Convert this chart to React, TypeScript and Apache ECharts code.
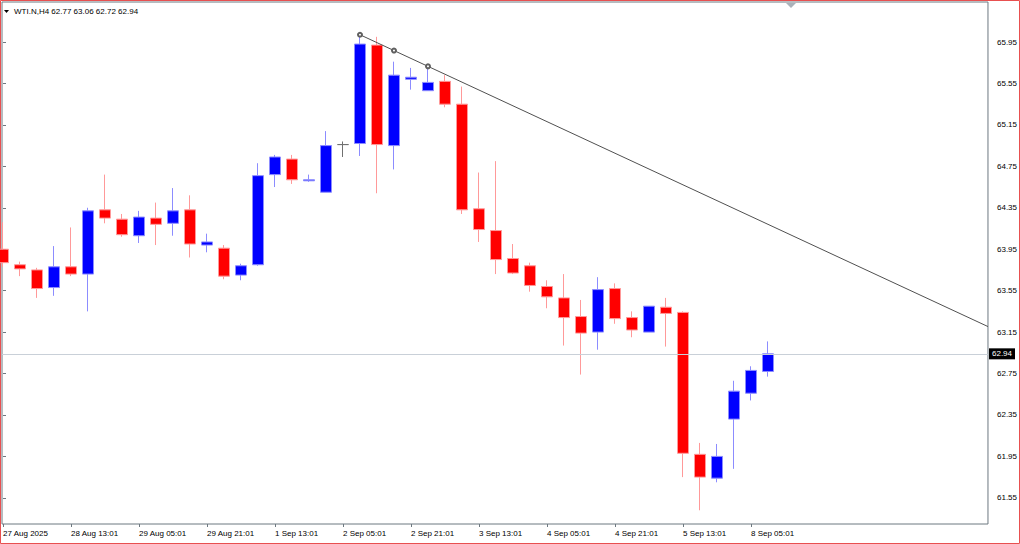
import React, { useEffect, useRef } from "react";
import * as echarts from "echarts";

// Bar index along the x axis (H4 bars, 27 Aug 21:01 .. 8 Sep 09:01)
const opens = [63.95, 63.80, 63.75, 63.58, 63.78, 63.71, 64.33, 64.24, 64.08, 64.25, 64.20, 64.33, 63.99, 63.96, 63.70, 63.80, 64.67, 64.82, 64.61, 64.50, 64.96, 64.97, 65.92, 64.95, 65.59, 65.48, 65.57, 65.35, 64.34, 64.13, 63.86, 63.79, 63.59, 63.48, 63.30, 63.15, 63.57, 63.29, 63.15, 63.39, 63.34, 61.97, 61.74, 62.31, 62.56, 62.77];
const closes = [63.82, 63.76, 63.57, 63.78, 63.71, 64.32, 64.25, 64.09, 64.26, 64.19, 64.32, 64.00, 64.02, 63.69, 63.79, 64.66, 64.84, 64.62, 64.62, 64.95, 64.96, 65.93, 64.96, 65.63, 65.61, 65.56, 65.35, 64.33, 64.14, 63.85, 63.72, 63.60, 63.49, 63.29, 63.14, 63.56, 63.28, 63.17, 63.40, 63.33, 61.98, 61.75, 61.95, 62.58, 62.78, 62.94];
const lows = [63.78, 63.69, 63.48, 63.50, 63.69, 63.35, 64.20, 64.07, 64.01, 63.99, 64.08, 63.87, 63.92, 63.66, 63.65, 63.79, 64.55, 64.58, 64.60, 64.50, 64.84, 64.85, 64.49, 64.72, 65.49, 65.48, 65.32, 64.29, 64.02, 63.71, 63.71, 63.54, 63.38, 63.02, 62.74, 62.98, 63.23, 63.10, 63.15, 63.01, 61.75, 61.43, 61.70, 61.83, 62.49, 62.72];
const highs = [64.21, 63.83, 63.77, 63.98, 64.16, 64.35, 64.67, 64.29, 64.32, 64.40, 64.54, 64.47, 64.10, 63.99, 63.81, 64.78, 64.86, 64.86, 64.67, 65.09, 64.99, 66.02, 66.00, 65.76, 65.70, 65.71, 65.63, 65.52, 64.69, 64.80, 64.00, 63.82, 63.65, 63.71, 63.46, 63.68, 63.62, 63.35, 63.40, 63.48, 63.35, 62.08, 62.07, 62.68, 62.82, 63.06];

const xTickIndex = [0, 4, 8, 12, 16, 20, 24, 28, 32, 36, 40, 44];
const xTickLabels = ["27 Aug 2025", "28 Aug 13:01", "29 Aug 05:01", "29 Aug 21:01", "1 Sep 13:01", "2 Sep 05:01", "2 Sep 21:01", "3 Sep 13:01", "4 Sep 05:01", "4 Sep 21:01", "5 Sep 13:01", "8 Sep 05:01"];
const yTicks = [61.55, 61.95, 62.35, 62.75, 63.15, 63.55, 63.95, 64.35, 64.75, 65.15, 65.55, 65.95];

const symbolName = "WTI.N,H4";
const trendStart = [21, 66.02];
const trendEnd = [25, 65.715];

const FONT = "Liberation Sans";

export default function App() {
  const ref = useRef<HTMLDivElement>(null);
  useEffect(() => {
    if (!ref.current) return;
    const chart = echarts.init(ref.current, null, { renderer: "svg" });
    const n = opens.length;
    const candleData = opens.map((o, i) => [i, o, closes[i], lows[i], highs[i]]);
    const xMin = -1 / 17;
    const xMax = 985 / 17;
    const yMin = 65.95 - 482 / 103.6;
    const yMax = 65.95 + 40 / 103.6;
    const slope = (trendEnd[1] - trendStart[1]) / (trendEnd[0] - trendStart[0]);
    const mid = [(trendStart[0] + trendEnd[0]) / 2, (trendStart[1] + trendEnd[1]) / 2];
    const rayEnd = [xMax, trendStart[1] + slope * (xMax - trendStart[0])];
    const last = n - 1;
    const header = `${symbolName} ${opens[last].toFixed(2)} ${highs[last].toFixed(2)} ${lows[last].toFixed(2)} ${closes[last].toFixed(2)}`;

    const option: any = {
      animation: false,
      backgroundColor: "#ffffff",
      grid: {
        left: 2,
        right: 32,
        top: 2,
        bottom: 20,
        show: true,
        borderColor: "#6d7880",
        borderWidth: 1,
        backgroundColor: "#ffffff",
      },
      xAxis: {
        type: "value",
        min: xMin,
        max: xMax,
        axisLine: { show: false },
        splitLine: { show: false },
        axisTick: {
          show: true,
          customValues: xTickIndex,
          length: 3,
          lineStyle: { color: "#6d7880" },
        },
        axisLabel: {
          customValues: xTickIndex,
          formatter: (v: number) => {
            const i = xTickIndex.indexOf(Math.round(v));
            return i >= 0 ? xTickLabels[i] : "";
          },
          align: "left",
          margin: 5,
          fontSize: 8,
          fontFamily: FONT,
          color: "#000000",
        },
      },
      yAxis: {
        type: "value",
        position: "right",
        offset: 8,
        min: yMin,
        max: yMax,
        axisLine: { show: false },
        splitLine: { show: false },
        axisTick: {
          show: true,
          customValues: yTicks,
          length: 3,
          lineStyle: { color: "#6d7880" },
        },
        axisLabel: {
          customValues: yTicks,
          formatter: (v: number) => v.toFixed(2),
          margin: 1,
          fontSize: 8,
          fontFamily: FONT,
          color: "#000000",
        },
      },
      series: [
        {
          type: "candlestick",
          data: candleData,
          barWidth: 12,
          itemStyle: {
            color: "#0000ff",
            color0: "#ff0000",
            borderColor: "#8c8cff",
            borderColor0: "#ff9999",
            borderColorDoji: "#707070",
            borderWidth: 1,
          },
          markLine: {
            silent: true,
            symbol: "none",
            lineStyle: { color: "#c9d0d8", width: 1, type: "solid" },
            label: {
              show: true,
              position: "end",
              distance: 1,
              formatter: () => closes[last].toFixed(2),
              backgroundColor: "#000000",
              color: "#ffffff",
              fontSize: 8,
              fontFamily: FONT,
              padding: [2, 3, 1, 3],
            },
            data: [{ yAxis: closes[last] }],
          },
        },
        {
          type: "line",
          data: [
            { value: trendStart },
            { value: mid },
            { value: trendEnd },
            { value: rayEnd, symbol: "none" },
          ],
          symbol: "emptyCircle",
          symbolSize: 4,
          showSymbol: true,
          itemStyle: { color: "#606060", borderColor: "#606060", borderWidth: 1 },
          lineStyle: { color: "#505050", width: 1 },
          z: 5,
        },
      ],
      graphic: [
        {
          type: "rect",
          shape: { x: 0.5, y: 0.5, width: 1019, height: 543 },
          style: { fill: "none", stroke: "#e85050", lineWidth: 1 },
          silent: true,
        },
        {
          type: "polygon",
          shape: { points: [[4, 10], [9, 10], [6.5, 13]] },
          style: { fill: "#000000" },
        },
        {
          type: "text",
          left: 14,
          top: 7,
          style: { text: header, fill: "#000000", font: `8px ${FONT}` },
        },
        {
          type: "polygon",
          shape: { points: [[786, 3], [796, 3], [791, 8]] },
          style: { fill: "#aab2ba" },
        },
      ],
    };
    chart.setOption(option);
    return () => chart.dispose();
  }, []);
  return (
    <div
      ref={ref}
      style={{ position: "fixed", left: 0, top: 0, width: 1020, height: 544, background: "#fff" }}
    />
  );
}
